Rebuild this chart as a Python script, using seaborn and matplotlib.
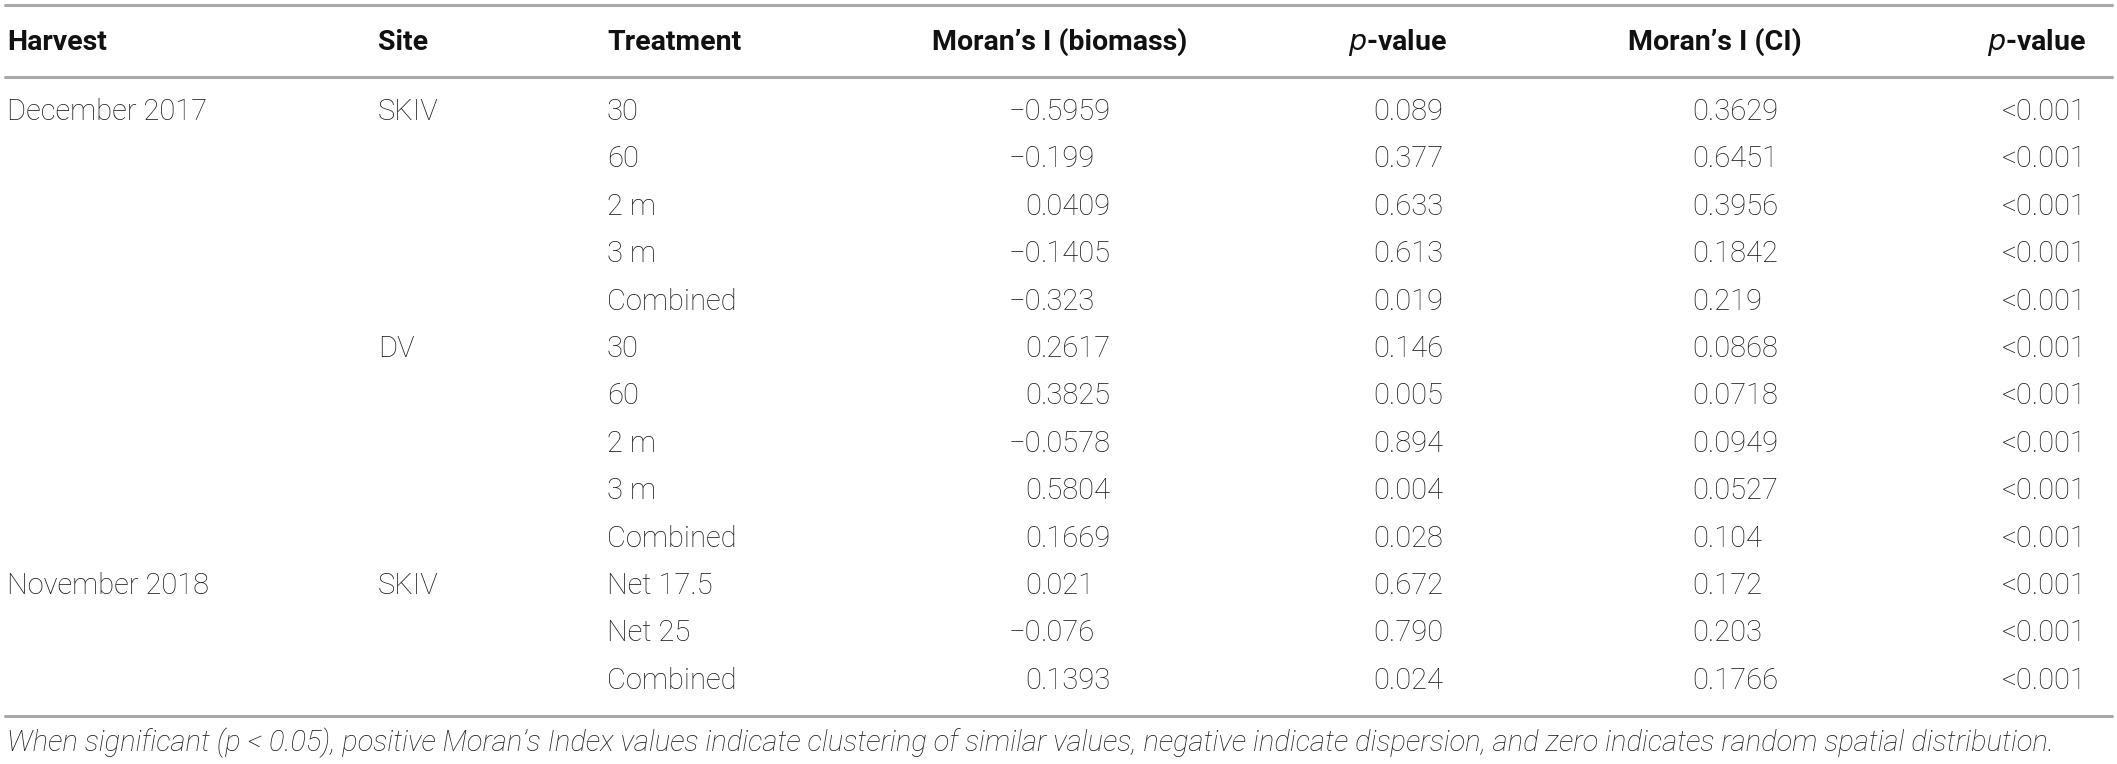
import matplotlib
matplotlib.use("Agg")
import matplotlib.pyplot as plt
import seaborn as sns
import pandas as pd

# Table contents
harvest = ["December 2017", "", "", "", "", "", "", "", "", "",
           "November 2018", "", ""]
site = ["SKIV", "", "", "", "", "DV", "", "", "", "", "SKIV", "", ""]
treatment = ["30", "60", "2 m", "3 m", "Combined",
             "30", "60", "2 m", "3 m", "Combined",
             "Net 17.5", "Net 25", "Combined"]
moran_biomass = ["−0.5959", "−0.199", "0.0409", "−0.1405", "−0.323",
                 "0.2617", "0.3825", "−0.0578", "0.5804", "0.1669",
                 "0.021", "−0.076", "0.1393"]
p_biomass = ["0.089", "0.377", "0.633", "0.613", "0.019",
             "0.146", "0.005", "0.894", "0.004", "0.028",
             "0.672", "0.790", "0.024"]
moran_ci = ["0.3629", "0.6451", "0.3956", "0.1842", "0.219",
            "0.0868", "0.0718", "0.0949", "0.0527", "0.104",
            "0.172", "0.203", "0.1766"]
p_ci = ["<0.001"] * 13

footnote = ("When significant (p < 0.05), positive Moran’s Index values indicate "
            "clustering of similar values, negative indicate dispersion, and zero "
            "indicates random spatial distribution.")

df = pd.DataFrame({"Harvest": harvest, "Site": site, "Treatment": treatment,
                   "mb": moran_biomass, "pb": p_biomass, "mc": moran_ci, "pc": p_ci})

sns.set_style("white")
plt.rcParams['font.family'] = ['Roboto', 'DejaVu Sans']

W, H = 2117, 764
fig = plt.figure(figsize=(W / 100, H / 100), dpi=100)
ax = fig.add_axes([0, 0, 1, 1])
ax.set_xlim(0, W)
ax.set_ylim(H, 0)
ax.axis("off")

body = dict(fontsize=21, color="#1a1a1a", fontweight="light", va="center")
head = dict(fontsize=20.5, color="#111111", fontweight="bold", va="center")
rule = dict(color="#a8a8a8", lw=2.2)

# rules
for y in (5, 77, 716):
    ax.plot([5, 2112], [y, y], **rule)

# header
hy = 42
ax.text(7, hy, "Harvest", ha="left", **head)
ax.text(378, hy, "Site", ha="left", **head)
ax.text(607, hy, "Treatment", ha="left", **head)
ax.text(1187, hy, "Moran’s I (biomass)", ha="right", **head)
ax.text(1398, hy, "$\\bf{\\it{p}}$-value", ha="center", **head)
ax.text(1715, hy, "Moran’s I (CI)", ha="center", **head)
ax.text(2086, hy, "$\\bf{\\it{p}}$-value", ha="right", **head)

# body rows
y0, dy = 112, 47.4
for i, r in df.iterrows():
    y = y0 + i * dy
    ax.text(7, y, r["Harvest"], ha="left", **body)
    ax.text(378, y, r["Site"], ha="left", **body)
    ax.text(607, y, r["Treatment"], ha="left", **body)
    whole, frac = r["mb"].split(".")
    ax.text(1041, y, whole, ha="right", **body)
    ax.text(1041, y, "." + frac, ha="left", **body)
    ax.text(1373, y, r["pb"], ha="left", **body)
    ax.text(1692, y, r["mc"], ha="left", **body)
    ax.text(2087, y, r["pc"], ha="right", **body)

ax.text(7, 743, footnote, ha="left", va="center", fontsize=21,
        style="italic", fontweight="light", color="#1a1a1a")

fig.savefig("out.png", dpi=100)
